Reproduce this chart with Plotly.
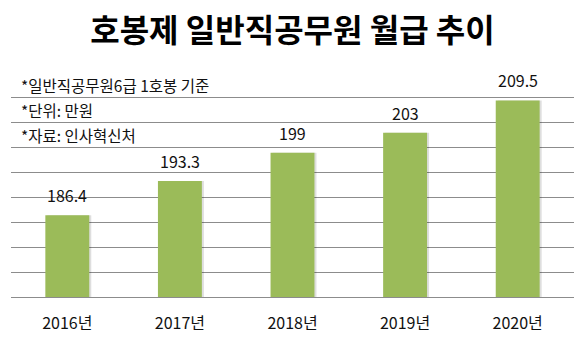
import plotly.graph_objects as go

# Monthly pay of general civil servants (grade 6, step 1), unit: 10,000 won
years = ["2016년", "2017년", "2018년", "2019년", "2020년"]
pay = [186.4, 193.3, 199, 203, 209.5]
value_labels = ["186.4", "193.3", "199", "203", "209.5"]

title_text = "호봉제 일반직공무원 월급 추이"
notes = ["*일반직공무원6급 1호봉 기준", "*단위: 만원", "*자료: 인사혁신처"]

W, H = 580, 343
M_L, M_R, M_T, M_B = 11, 6, 73, 46
Y_MIN, Y_MAX, Y_STEP = 170, 215, 5

FONT = "Noto Sans CJK KR"
BAR_COLOR = "#9bbb59"
GRID_COLOR = "#8c8c8c"
BAR_WIDTH = 0.39

fig = go.Figure()

# soft drop shadow to the right of each bar
fig.add_trace(go.Bar(
    x=years, y=[v - Y_MIN for v in pay], base=Y_MIN,
    width=BAR_WIDTH, offset=-BAR_WIDTH / 2 + 0.018,
    marker=dict(color="rgba(0,0,0,0.13)", line=dict(width=0)),
    hoverinfo="skip", showlegend=False,
))

fig.add_trace(go.Bar(
    x=years, y=[v - Y_MIN for v in pay], base=Y_MIN,
    width=BAR_WIDTH, offset=-BAR_WIDTH / 2,
    marker=dict(color=BAR_COLOR, line=dict(width=0)),
    showlegend=False,
))

annotations = []
for yr, v, lab in zip(years, pay, value_labels):
    annotations.append(dict(
        x=yr, y=v, xref="x", yref="y", text=lab, showarrow=False,
        yanchor="bottom", yshift=6,
        font=dict(family=FONT, size=16, color="#111111"),
    ))

plot_w = W - M_L - M_R
for i, note in enumerate(notes):
    annotations.append(dict(
        x=(19 - M_L) / plot_w, xref="paper", xanchor="left",
        y=Y_MAX - (i + 0.5) * Y_STEP, yref="y", yanchor="middle",
        text=note, showarrow=False,
        font=dict(family=FONT, size=15.5, color="#111111"),
    ))

fig.update_layout(
    width=W, height=H,
    margin=dict(l=M_L, r=M_R, t=M_T, b=M_B, pad=0),
    paper_bgcolor="white", plot_bgcolor="white",
    barmode="overlay",
    title=dict(
        text=f"<b>{title_text}</b>", x=0.5, xref="paper", xanchor="center",
        y=1 - 31 / H, yref="container", yanchor="middle",
        font=dict(family=FONT, size=32, color="#000000"),
    ),
    xaxis=dict(
        showgrid=False, zeroline=False,
        showline=True, linecolor=GRID_COLOR, linewidth=1.3,
        ticks="outside", ticklen=12, tickcolor="rgba(0,0,0,0)",
        tickfont=dict(family=FONT, size=16, color="#111111"),
        range=[-0.5, 4.5],
    ),
    yaxis=dict(
        range=[Y_MIN, Y_MAX], dtick=Y_STEP, tick0=Y_MIN,
        showgrid=True, gridcolor=GRID_COLOR, gridwidth=1.3,
        showticklabels=False, zeroline=False, showline=False, ticks="",
    ),
    annotations=annotations,
    font=dict(family=FONT),
)

fig.write_html("out.html")
